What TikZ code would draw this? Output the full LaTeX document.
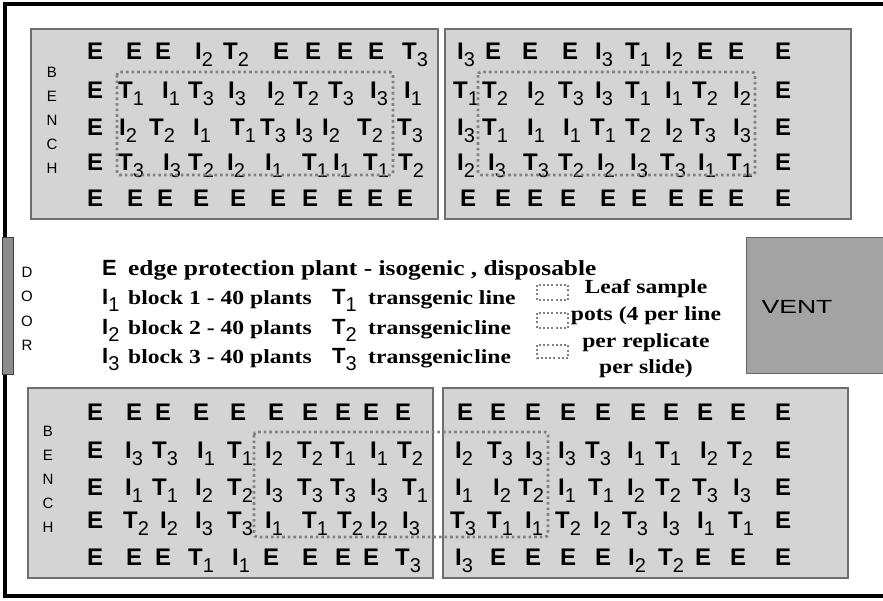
\documentclass[tikz,border=0pt]{standalone}
\usepackage{graphicx}
\usepackage{fontspec}
\setmainfont{Liberation Serif}
\setsansfont{Liberation Sans}
\usetikzlibrary{positioning}
\definecolor{benchfill}{RGB}{212,212,212}
\definecolor{benchline}{RGB}{110,110,110}
\definecolor{dotgrey}{RGB}{128,128,128}
\definecolor{doorfill}{RGB}{140,140,140}
\definecolor{ventfill}{RGB}{163,163,163}
\newcommand{\sub}[1]{\raisebox{-7pt}{\fontsize{20}{20}\selectfont\mdseries #1}}
\newcommand{\wide}[1]{\scalebox{1.18}[1]{#1}}
% one row of pots: name prefix, baseline, list x/label
\newcommand{\plantrow}[3]{%
  \foreach \xx/\lab [count=\cc] in {#3} {\node[plant] (#1-\cc) at (\xx,#2) {\lab};}}

\begin{document}
\begin{tikzpicture}[x=1pt, y=-1pt,
    bench/.style={fill=benchfill, draw=benchline, line width=1.2pt},
    sample/.style={draw=dotgrey, line width=2.8pt, dash pattern=on 2.6pt off 3pt, rounded corners=3pt},
    smallsample/.style={draw=dotgrey, line width=2pt, dash pattern=on 2pt off 2.2pt},
    plant/.style={anchor=base west, inner sep=0pt, font=\fontsize{24}{24}\selectfont\sffamily\bfseries},
    benchlbl/.style={align=center, inner sep=0pt, font=\fontsize{15}{24}\selectfont\sffamily},
    legsym/.style={anchor=base west, inner sep=0pt, font=\fontsize{22}{22}\selectfont\sffamily\bfseries},
    legtxt/.style={anchor=base west, inner sep=0pt, font=\fontsize{20}{20}\selectfont\bfseries}]
\clip (0,0) rectangle (883,600);

% --- room ---
\draw[line width=3.5pt] (895,4) -- (5,4) -- (5,596) -- (895,596);
\draw[fill=doorfill, draw=black!75, line width=1pt] (2,237) rectangle (13,374);
\node[benchlbl, font=\fontsize{15}{24.5}\selectfont\sffamily] (door) at (27,309) {D\\O\\O\\R};
\draw[fill=ventfill, draw=black!60, line width=1pt] (746,237) rectangle (895,373);
\node[inner sep=0pt, font=\fontsize{19}{19}\selectfont\sffamily] (vent) at (797,307) {\scalebox{1.4}[1]{VENT}};

% --- benches ---
\draw[bench] (31,29) rectangle (438,219);
\draw[bench] (445,29) rectangle (851,219);
\draw[bench] (28,388) rectangle (433,578);
\draw[bench] (443,388) rectangle (848,578);
\node[benchlbl] (benchA) at (52,120.5) {B\\E\\N\\C\\H};
\node[benchlbl] (benchC) at (48,479) {B\\E\\N\\C\\H};

% --- top left bench ---
\plantrow{tlA}{59}{87/E, 126/E, 155/E, 195/I\sub2, 223/T\sub2, 273/E, 305/E, 337/E, 368/E, 402/T\sub3}
\plantrow{tlB}{98}{87/E, 118/T\sub1, 162/I\sub1, 188/T\sub3, 228/I\sub3, 267/I\sub2, 293/T\sub2, 328/T\sub3, 370/I\sub3, 404/I\sub1}
\plantrow{tlC}{135}{87/E, 119/I\sub2, 149/T\sub2, 193/I\sub1, 230/T\sub1, 260/T\sub3, 295/I\sub3, 322/I\sub2, 357/T\sub2, 397/T\sub3}
\plantrow{tlD}{170}{87/E, 118/T\sub3, 163/I\sub3, 188/T\sub2, 227/I\sub2, 265/I\sub1, 302/T\sub1, 333/I\sub1, 363/T\sub1, 398/T\sub2}
\plantrow{tlE}{206}{87/E, 127/E, 157/E, 193/E, 230/E, 270/E, 302/E, 337/E, 367/E, 397/E}

% --- top right bench ---
\plantrow{trA}{59}{457/I\sub3, 485/E, 522/E, 562/E, 595/I\sub3, 625/T\sub1, 665/I\sub2, 697/E, 728/E, 775/E}
\plantrow{trB}{98}{453/T\sub1, 482/T\sub2, 527/I\sub2, 558/T\sub3, 595/I\sub3, 625/T\sub1, 665/I\sub1, 692/T\sub2, 733/I\sub2, 775/E}
\plantrow{trC}{135}{457/I\sub3, 482/T\sub1, 527/I\sub1, 563/I\sub1, 590/T\sub1, 625/T\sub2, 665/I\sub2, 690/T\sub3, 733/I\sub3, 775/E}
\plantrow{trD}{170}{457/I\sub2, 488/I\sub3, 523/T\sub3, 558/T\sub2, 597/I\sub2, 630/I\sub3, 660/T\sub3, 698/I\sub1, 727/T\sub1, 775/E}
\plantrow{trE}{206}{460/E, 495/E, 527/E, 560/E, 600/E, 631/E, 668/E, 698/E, 728/E, 775/E}

% --- bottom left bench ---
\plantrow{blA}{420}{87/E, 126/E, 155/E, 193/E, 230/E, 268/E, 302/E, 335/E, 363/E, 395/E}
\plantrow{blB}{458}{87/E, 125/I\sub3, 152/T\sub3, 197/I\sub1, 227/T\sub1, 265/I\sub2, 297/T\sub2, 330/T\sub1, 370/I\sub1, 397/T\sub2}
\plantrow{blC}{495}{87/E, 125/I\sub1, 152/T\sub1, 195/I\sub2, 227/T\sub2, 265/I\sub3, 297/T\sub3, 330/T\sub3, 370/I\sub3, 402/T\sub1}
\plantrow{blD}{528}{87/E, 123/T\sub2, 160/I\sub2, 195/I\sub3, 227/T\sub3, 265/I\sub1, 302/T\sub1, 337/T\sub2, 370/I\sub2, 402/I\sub3}
\plantrow{blE}{565}{87/E, 126/E, 155/E, 188/T\sub1, 232/I\sub1, 263/E, 302/E, 335/E, 363/E, 395/T\sub3}

% --- bottom right bench ---
\plantrow{brA}{420}{457/E, 490/E, 525/E, 560/E, 595/E, 630/E, 663/E, 697/E, 730/E, 775/E}
\plantrow{brB}{458}{455/I\sub2, 487/T\sub3, 525/I\sub3, 558/I\sub3, 585/T\sub3, 627/I\sub1, 655/T\sub1, 700/I\sub2, 727/T\sub2, 775/E}
\plantrow{brC}{495}{455/I\sub1, 493/I\sub2, 518/T\sub2, 558/I\sub1, 588/T\sub1, 627/I\sub2, 655/T\sub2, 692/T\sub3, 733/I\sub3, 775/E}
\plantrow{brD}{528}{450/T\sub3, 487/T\sub1, 525/I\sub1, 555/T\sub2, 593/I\sub2, 622/T\sub3, 662/I\sub3, 697/I\sub1, 728/T\sub1, 775/E}
\plantrow{brE}{565}{455/I\sub3, 490/E, 525/E, 560/E, 595/E, 628/I\sub2, 658/T\sub2, 695/E, 730/E, 775/E}

% --- leaf sample pots ---
\draw[sample] (117,72) rectangle (393,175);
\draw[sample] (478,72) rectangle (755,175);
\draw[sample] (254,432) rectangle (548,537);

% --- legend ---
\node[legsym] (keyE) at (102,275) {E};
\node[legtxt, font=\fontsize{21.5}{21.5}\selectfont\bfseries] (txtE) at (128,275) {\wide{edge protection plant - isogenic , disposable}};
\foreach \k/\yy in {1/304, 2/334, 3/363} {
  \node[legsym] (keyI\k) at (102,\yy) {I\sub{\k}};
  \node[legtxt] (txtI\k) at (128,\yy) {\wide{block \k\ - 40 plants}};
  \node[legsym] (keyT\k) at (332,\yy) {T\sub{\k}};
}
\node[legtxt] (txtT1) at (368,304) {\wide{transgenic line}};
\node[legtxt] (txtT2) at (368,334) {\wide{transgenic\hspace{1pt}line}};
\node[legtxt] (txtT3) at (368,363) {\wide{transgenic\hspace{1pt}line}};
\draw[smallsample] (537,285) rectangle (568,300);
\draw[smallsample] (537,313) rectangle (568,328);
\draw[smallsample] (537,345) rectangle (568,358);
\node[inner sep=0pt, align=center, font=\fontsize{20}{26.7}\selectfont\bfseries] (leafnote) at (646,329)
  {\wide{Leaf sample}\\\wide{pots (4 per line}\\\wide{per replicate}\\\wide{per slide)}};
\end{tikzpicture}
\end{document}
